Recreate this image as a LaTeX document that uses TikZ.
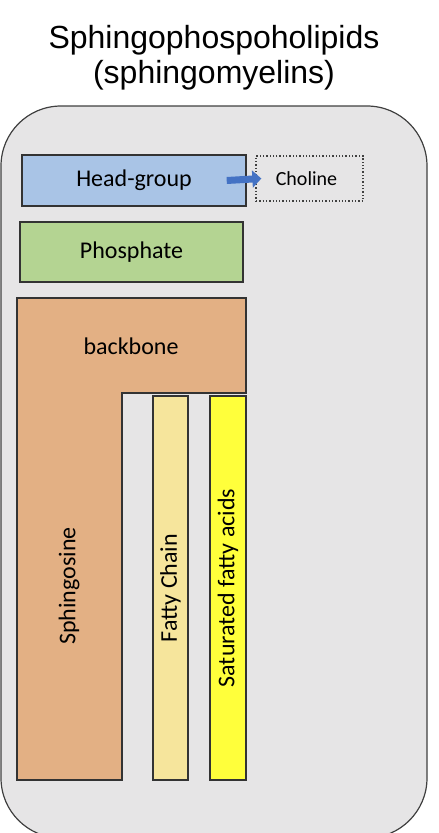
\documentclass[tikz,border=0pt]{standalone}
\usepackage{fontspec}
\setmainfont{Carlito}
\newfontfamily\titlefont{Liberation Sans}
\usetikzlibrary{positioning, arrows.meta, calc}

\definecolor{framegray}{HTML}{E6E5E6}
\definecolor{headblue}{HTML}{A9C4E6}
\definecolor{phosgreen}{HTML}{B4D492}
\definecolor{boneorange}{HTML}{E3B084}
\definecolor{fattycream}{HTML}{F6E59C}
\definecolor{satyellow}{HTML}{FFFF3B}
\definecolor{arrowblue}{HTML}{4472C4}

\begin{document}
\begin{tikzpicture}[x=1pt,y=-1pt,
	label font/.style={font=\fontsize{24}{28}\selectfont},
	part/.style={draw=black!80, line width=1.4pt, inner sep=0pt, label font},
	chain/.style={part, rotate=90, minimum width=384pt},
	addon/.style={draw=black!75, dotted, line width=1.3pt, inner sep=0pt, font=\fontsize{20}{24}\selectfont},
	pointer/.style={arrowblue, line width=7pt, -{Triangle[length=9pt,width=17pt]}}]
	\useasboundingbox (0,0) rectangle (439,833);
	
	% Title
	\node[font=\titlefont\fontsize{32}{35}\selectfont, align=center] (title) at (214,58)
	{Sphingophospoholipids\\(sphingomyelins)};
	
	% Cell frame
	\draw[fill=framegray, draw=black!75, line width=1.2pt, rounded corners=60pt]
	(1,106) rectangle (427,838);
	
	% Head group and phosphate
	\node[part, fill=headblue, minimum width=224pt, minimum height=51pt] (head) at (134,180.5) {Head-group};
	\node[addon, minimum width=107pt, minimum height=45pt] (choline) at (309.5,178.5) {\hspace*{-6pt}Choline};
	\draw[pointer] ($(head.east)+(-20,0)$) -- ($(choline.west)+(6,0)$);
	
	\node[part, fill=phosgreen, minimum width=223pt, minimum height=60pt] (phosphate) at (131.5,252) {Phosphate};
	
	% Backbone (L shape with sphingosine leg)
	\draw[fill=boneorange, draw=black!80, line width=1.4pt]
	(17,298) -- (246,298) -- (246,393) -- (122,393) -- (122,780) -- (17,780) -- cycle;
	\node[label font] (backbone) at (131,346) {backbone};
	\node[label font, rotate=90] (sphingosine) at (69,586) {Sphingosine};
	
	% Fatty chains
	\node[chain, fill=fattycream, minimum height=35pt] (fatty) at (170.5,588) {Fatty Chain};
	\node[chain, fill=satyellow, minimum height=36pt] (saturated) at (228,588) {Saturated fatty acids};
\end{tikzpicture}
\end{document}
